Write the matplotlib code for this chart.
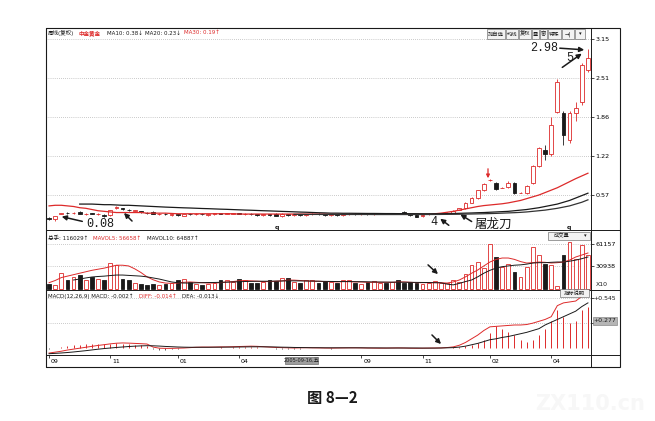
import matplotlib
matplotlib.use("Agg")
import matplotlib.pyplot as plt
import numpy as np
from matplotlib.patches import Rectangle, FancyArrowPatch

plt.rcParams['font.family'] = ['DejaVu Sans', 'Noto Sans CJK SC']

RED = '#dd2a2a'
BLK = '#1a1a1a'

# weekly candles (adjusted prices)
opens = [.19, .17, .26, .28, .27, .29, .25, .27, .25, .24,
         .24, .36, .35, .33, .31, .30, .28, .29, .25, .26,
         .24, .25, .23, .26, .25, .26, .24, .25, .27, .26,
         .26, .27, .25, .26, .25, .24, .25, .26, .22, .25,
         .24, .25, .24, .25, .26, .25, .24, .25, .24, .25,
         .26, .25, .26, .25, .26, .27, .26, .27, .29, .25,
         .24, .22, .25, .26, .26, .27, .28, .33, .36, .44,
         .52, .65, .81, .77, .69, .70, .77, .60, .60, .77,
         1.05, 1.31, 1.25, 1.94, 1.93, 1.48, 1.93, 2.10, 2.64]
closes = [.17, .22, .27, .27, .28, .255, .26, .26, .26, .22,
          .32, .37, .34, .32, .32, .29, .27, .255, .26, .25,
          .25, .24, .25, .25, .26, .25, .25, .27, .26, .265,
          .27, .26, .26, .25, .24, .25, .24, .23, .26, .24,
          .25, .24, .25, .26, .25, .24, .25, .24, .25, .26,
          .25, .26, .25, .26, .27, .26, .27, .26, .255, .24,
          .21, .245, .26, .26, .27, .28, .31, .35, .44, .52,
          .65, .75, .82, .67, .69, .77, .60, .61, .72, 1.05,
          1.35, 1.25, 1.73, 2.44, 1.56, 1.93, 2.00, 2.72, 2.83]
highs = [.20, .23, .28, .29, .29, .30, .27, .28, .27, .25,
         .33, .39, .36, .34, .33, .31, .29, .30, .27, .27,
         .26, .26, .26, .27, .27, .27, .26, .28, .28, .27,
         .28, .28, .27, .27, .26, .26, .26, .27, .27, .26,
         .26, .26, .26, .27, .27, .26, .26, .26, .26, .27,
         .27, .27, .27, .27, .28, .28, .28, .28, .30, .26,
         .25, .25, .27, .27, .28, .29, .32, .36, .46, .53,
         .66, .77, .84, .78, .70, .80, .78, .62, .73, 1.06,
         1.37, 1.39, 1.86, 2.48, 1.95, 1.95, 2.10, 2.75, 2.98]
lows = [.16, .14, .25, .26, .26, .25, .24, .25, .24, .21,
        .23, .34, .33, .31, .30, .28, .26, .25, .24, .24,
        .23, .23, .22, .24, .24, .24, .23, .24, .25, .25,
        .25, .25, .24, .24, .23, .23, .23, .22, .21, .23,
        .23, .23, .23, .24, .24, .23, .23, .23, .23, .24,
        .24, .24, .24, .24, .25, .25, .25, .25, .25, .23,
        .20, .21, .24, .25, .25, .26, .27, .32, .34, .43,
        .51, .64, .80, .66, .68, .69, .59, .60, .59, .75,
        1.04, 1.15, 1.22, 1.92, 1.40, 1.43, 1.80, 2.05, 2.60]

ma_red = [.39, .40, .40, .39, .38, .36, .35, .33, .31, .30,
          .29, .28, .28, .28, .28, .28, .27, .27, .27, .27,
          .265, .26, .26, .26, .26, .26, .26, .26, .26, .26,
          .26, .255, .255, .255, .255, .255, .255, .255, .255, .255,
          .255, .255, .255, .255, .255, .255, .25, .25, .25, .25,
          .25, .25, .25, .25, .25, .25, .25, .25, .25, .25,
          .25, .25, .25, .26, .27, .285, .30, .32, .34, .36,
          .38, .395, .405, .415, .425, .44, .46, .48, .51, .54,
          .57, .61, .65, .69, .74, .79, .84, .885, .93]
ma_blk1 = [None] * 5 + [
    .42, .42, .42, .415, .41,
    .41, .405, .40, .40, .395, .39, .385, .38, .375, .37,
    .366, .362, .358, .355, .351, .347, .344, .340, .336, .333,
    .329, .325, .321, .318, .314, .310, .307, .303, .299, .296,
    .292, .288, .285, .281, .277, .274, .270, .27, .268, .268,
    .267, .266, .265, .265, .264, .263, .263, .262, .262, .261,
    .261, .26, .26, .26, .26, .262, .264, .267, .27, .273,
    .277, .28, .285, .29, .295, .30, .31, .32, .33, .345,
    .36, .38, .40, .42, .45, .48, .52, .56, .60]
ma_blk2 = [None] * 40 + [
    .25, .25, .249, .249, .249, .248, .248, .248, .248, .248,
    .248, .248, .248, .247, .247, .247, .247, .247, .247, .247,
    .247, .247, .248, .248, .249, .25, .251, .252, .254, .256,
    .258, .26, .263, .266, .27, .274, .278, .283, .29, .30,
    .31, .32, .335, .35, .37, .39, .42, .45, .49]

vols = [6000, 5000, 21500, 11500, 16000, 18300, 12000, 16000, 13500, 11000,
        35000, 32000, 13500, 11000, 8000, 6500, 5000, 6000, 4500, 5500,
        7000, 11000, 13000, 9000, 6000, 5000, 6500, 8000, 11000, 12000,
        9000, 13500, 12000, 8000, 7000, 9500, 11000, 10000, 14000, 15000,
        9000, 7000, 11000, 12000, 8000, 10000, 9000, 7000, 11000, 12000,
        8000, 6000, 9000, 10000, 8000, 7000, 9000, 11000, 8000, 9000,
        7000, 6000, 8000, 10000, 8000, 7000, 11000, 9000, 20600, 32000,
        37000, 27500, 60500, 43500, 30000, 34000, 23000, 16000, 30000, 57000,
        46700, 34000, 32000, 4000, 46000, 64000, 41000, 59500, 46000]
mavol5 = [8000, 11000, 15000, 17000, 19000, 21000, 23000, 25000, 26500, 28000,
          30000, 32000, 32000, 31000, 27000, 22000, 16000, 12000, 9000, 7500,
          7000, 7500, 8500, 9000, 8500, 8000, 7500, 7500, 8000, 9000,
          9500, 10500, 11000, 10500, 10000, 9500, 9500, 10000, 10500, 11500,
          11500, 11000, 10500, 10000, 10000, 9500, 9500, 9000, 9500, 9500,
          9000, 9000, 8500, 8500, 8500, 8500, 8500, 9000, 9000, 8500,
          8000, 8000, 8000, 8000, 8000, 7500, 9000, 11700, 16000, 21000,
          25400, 31000, 36400, 40000, 41900, 41900, 40000, 37000, 35000, 35500,
          36400, 36000, 35000, 35500, 36400, 39000, 43300, 46000, 48800]
mavol10 = [None, None, None, None, 11700, 13000, 14500, 15800, 16500, 17000,
           17800, 18500, 18500, 18000, 17500, 17000, 16000, 14500, 13000, 11000,
           9000, 8000, 7500, 7500, 7800, 8000, 8200, 8300, 8500, 8700,
           9000, 9300, 9600, 9800, 10000, 10000, 10000, 10200, 10300, 10500,
           10500, 10400, 10300, 10200, 10000, 9800, 9700, 9600, 9500, 9500,
           9400, 9300, 9200, 9000, 8900, 8800, 8700, 8700, 8600, 8500,
           8400, 8300, 8200, 8000, 7800, 6000, 5000, 7000, 9500, 11700,
           16000, 21000, 25000, 28000, 30000, 31000, 32000, 32500, 33500, 35000,
           35500, 35500, 36000, 36400, 36400, 37500, 39000, 41000, 43300]

diff = [-.055, -.045, -.035, -.022, -.012, -.002, .008, .018, .028, .036,
        .045, .052, .055, .053, .05, .047, .043, .01, -.002, -.004,
        -.004, -.002, 0, .004, .008, .01, .01, .01, .012, .012,
        .014, .016, .018, .02, .018, .014, .01, .006, .004, .002,
        0, .002, .003, .002, .001, 0, -.001, 0, .001, .002,
        .002, .001, 0, -.001, -.002, -.001, 0, .001, 0, -.002,
        -.003, -.002, -.001, 0, .001, .005, .012, .03, .06, .10,
        .14, .19, .23, .235, .24, .245, .25, .25, .255, .27,
        .29, .31, .34, .46, .49, .50, .51, .56, .60]
dea = [-.062, -.058, -.054, -.049, -.043, -.036, -.029, -.021, -.013, -.006,
       0, .006, .011, .016, .02, .023, .025, .024, .021, .017,
       .014, .011, .009, .008, .008, .008, .008, .009, .009, .01,
       .01, .011, .012, .013, .013, .013, .012, .011, .009, .008,
       .006, .005, .004, .003, .003, .002, .002, .002, .002, .002,
       .002, .002, .001, .001, .001, 0, 0, 0, 0, 0,
       0, -.001, -.001, -.001, 0, .002, .004, .01, .02, .035,
       .05, .07, .09, .10, .115, .125, .14, .155, .17, .19,
       .21, .25, .28, .31, .34, .37, .40, .45, .49]
macd = [-.01, 0, .01, .02, .03, .035, .04, .04, .045, .045,
        .045, .05, .045, .04, .035, .03, .02, -.01, -.02, -.02,
        -.015, -.01, -.005, 0, .005, .005, .005, .003, .006, .005,
        .008, .01, .012, .014, .01, .002, -.004, -.01, -.01, -.012,
        -.01, -.006, -.003, -.002, -.003, -.004, -.006, -.004, -.002, 0,
        .001, -.001, -.002, -.003, -.004, -.002, 0, .002, .001, -.001,
        -.003, -.002, -.001, .001, .002, .005, .01, .015, .02, .03,
        .05, .09, .16, .24, .21, .17, .14, .09, .06, .09,
        .14, .21, .29, .41, .34, .27, .29, .41, .45]

tick_pos = [0, 10, 21, 31, 51, 61, 72, 82]
tick_labels = ['09', '11', '01', '04', '09', '11', '02', '04']
price_ticks = [3.15, 2.51, 1.86, 1.22, 0.57]
vol_ticks = [61157, 30938]

N = len(closes)
for arr in (opens, highs, lows, ma_red, ma_blk1, ma_blk2, vols, mavol5, mavol10, diff, dea, macd):
    assert len(arr) == N, len(arr)

o = np.array(opens)
c = np.array(closes)
x = np.arange(N)
up = c >= o

W, H = 655, 421
fig = plt.figure(figsize=(W / 100, H / 100), dpi=100)


def px(xp, yp):
    return xp / W, 1 - yp / H


L, R = 46, 591


def panel(top, bottom):
    x0, y0 = px(L, bottom)
    x1, y1 = px(R, top)
    a = fig.add_axes([x0, y0, x1 - x0, y1 - y0])
    a.set_xlim(-0.5, N - 0.5)
    a.set_xticks([])
    for s in a.spines.values():
        s.set_linewidth(0.7)
        s.set_color(BLK)
    return a


def label(xp, yp, s, color=BLK, size=4.0, ha='left', va='center', **kw):
    fig.text(*px(xp, yp), s, color=color, fontsize=size, ha=ha, va=va, **kw)


def arrow(x0, y0, x1, y1, color=BLK, lw=1.1, ms=7):
    fig.add_artist(FancyArrowPatch(px(x0, y0), px(x1, y1), transform=fig.transFigure,
                                   arrowstyle='-|>', mutation_scale=ms, color=color, lw=lw))


def box(x0, y0, x1, y1, fc='#f2f2f2', ec='#555555', z=3):
    fig.add_artist(Rectangle(px(x0, y1), (x1 - x0) / W, (y1 - y0) / H, transform=fig.transFigure,
                             facecolor=fc, edgecolor=ec, lw=0.4, zorder=z))


ax_p = panel(28, 230)
ax_v = panel(230, 290)
ax_m = panel(290, 355)
ax_t = panel(355, 367)

# price panel
ax_p.set_ylim(-0.0085, 3.33)
ax_p.vlines(x, lows, highs, colors=np.where(up, RED, BLK), lw=0.6, zorder=2)
ax_p.bar(x, np.abs(c - o), bottom=np.minimum(o, c), width=0.62,
         facecolor=np.where(up, 'white', BLK), edgecolor=np.where(up, RED, BLK), lw=0.6, zorder=3)
ax_p.plot(x, np.array(ma_red, dtype=float), color=RED, lw=0.9, zorder=4)
ax_p.plot(x, np.array(ma_blk1, dtype=float), color=BLK, lw=0.9, zorder=4)
ax_p.plot(x, np.array(ma_blk2, dtype=float), color='#333333', lw=0.9, zorder=4)
ax_p.set_yticks(price_ticks)
ax_p.set_yticklabels([f'{v:.2f}' for v in price_ticks])

# volume panel
ax_v.set_ylim(-2060, 80400)
ax_v.bar(x, vols, width=0.62, facecolor=np.where(up, 'white', BLK),
         edgecolor=np.where(up, RED, BLK), lw=0.6, zorder=3)
ax_v.plot(x, np.array(mavol5, dtype=float), color=RED, lw=0.7, zorder=4)
ax_v.plot(x, np.array(mavol10, dtype=float), color=BLK, lw=0.7, zorder=4)
ax_v.set_yticks(vol_ticks)
ax_v.set_yticklabels([str(v) for v in vol_ticks])

# macd panel
ax_m.set_ylim(-0.076, 0.63)
h = np.array(macd)
ax_m.vlines(x, 0, h, colors=np.where(h >= 0, RED, '#555555'), lw=0.7, zorder=3)
ax_m.plot(x, diff, color=RED, lw=0.7, zorder=4)
ax_m.plot(x, dea, color=BLK, lw=0.7, zorder=4)
ax_m.set_yticks([0.545, 0.277])
ax_m.set_yticklabels([])

for a in (ax_p, ax_v, ax_m):
    a.yaxis.tick_right()
    a.tick_params(axis='y', labelsize=4.6, length=2, pad=1, width=0.5)
    a.yaxis.grid(True, linestyle=(0, (1, 2)), color='#9a9a9a', lw=0.5)
    a.set_axisbelow(True)

# time axis strip
ax_t.set_ylim(0, 1)
ax_t.set_yticks([])
ax_t.set_xticks(tick_pos)
ax_t.tick_params(axis='x', direction='in', length=2.5, top=True, bottom=False,
                 labelbottom=False, width=0.5)
for p, t in zip(tick_pos, tick_labels):
    ax_t.text(p + 0.3, 0.45, t, fontsize=4.5, ha='left', va='center')

# frame around right column
fig.add_artist(Rectangle(px(L, 367), (620 - L) / W, (367 - 28) / H, transform=fig.transFigure,
                         fill=False, lw=0.8, edgecolor=BLK))
for yy in (230, 290, 355):
    fig.add_artist(plt.Line2D([px(R, yy)[0], px(620, yy)[0]], [px(R, yy)[1]] * 2,
                              transform=fig.transFigure, lw=0.7, color=BLK))

# header lines
label(48, 33, '周线(复权)')
label(79, 33, '中金黄金', color=RED, weight='bold')
label(107, 33, 'MA10: 0.38↓')
label(145, 33, 'MA20: 0.23↓')
label(184, 33, 'MA30: 0.19↑', color=RED)
label(48, 238, '总手: 116029↑')
label(93, 238, 'MAVOL5: 56658↑', color=RED)
label(147, 238, 'MAVOL10: 64887↑')
label(48, 296, 'MACD(12,26,9) MACD: -0.002↑')
label(139, 296, 'DIFF: -0.014↑', color=RED)
label(182, 296, 'DEA: -0.013↓')

# toolbar buttons
buttons = [('加自选', 487, 505), ('均线', 506, 518), ('复权', 519, 531), ('叠', 532, 539),
           ('窗', 540, 547), ('特殊', 548, 561), ('→|', 562, 574), ('▾', 575, 585)]
for t, x0, x1 in buttons:
    box(x0, 29, x1, 39)
    label((x0 + x1) / 2, 34, t, size=3.8, ha='center', zorder=4)

box(548, 232, 590, 240)
label(562, 236, '成交量', size=3.8, ha='center', zorder=4)
label(585, 236, '▾', size=3.8, ha='center', zorder=4)
box(560, 289, 589, 297)
label(574.5, 293, '指标说明', size=3.8, ha='center', zorder=4)
label(596, 285, 'X10', size=4.4)
label(593, 298, '+0.545', size=4.4)
box(593, 317, 617, 325, fc='#b5b5b5', ec='#777777', z=1)
label(593, 321, '+0.277', size=4.4, zorder=4)
box(285, 357, 318, 364, fc='#9d9d9d', ec='#555555')
label(301.5, 360.5, '2005-09-16,五', size=3.6, ha='center', zorder=4)
label(275, 228, 'q', size=4.5, weight='bold')
label(567, 228, 'q', size=4.5, weight='bold')

# book annotations
mono = 'Liberation Mono'
label(86, 224, '0.08', size=8.5, family=mono)
arrow(85, 222, 59, 216)
arrow(134, 223, 122, 211)
label(430, 222, '4', size=8.5, family=mono)
arrow(451, 227, 438, 217)
label(475, 224, '屠龙刀', size=9, family='Noto Sans CJK SC')
arrow(474, 223, 458, 213)
label(530, 48, '2.98', size=8.5, family=mono)
arrow(557, 48, 587, 50)
label(566, 58, '5', size=8.5, family=mono)
arrow(560, 69, 584, 52)
arrow(488, 166, 488, 181, color=RED, lw=0.9, ms=5)
arrow(426, 263, 440, 276)
arrow(430, 333, 443, 346)

label(332, 398, '图 8—2', size=11, ha='center', weight='bold', family='Noto Sans CJK SC')
label(590, 404, 'ZX110.cn', size=15, ha='center', color='#f7f7f7', weight='bold')

fig.savefig('out.png', dpi=100, facecolor='white')
